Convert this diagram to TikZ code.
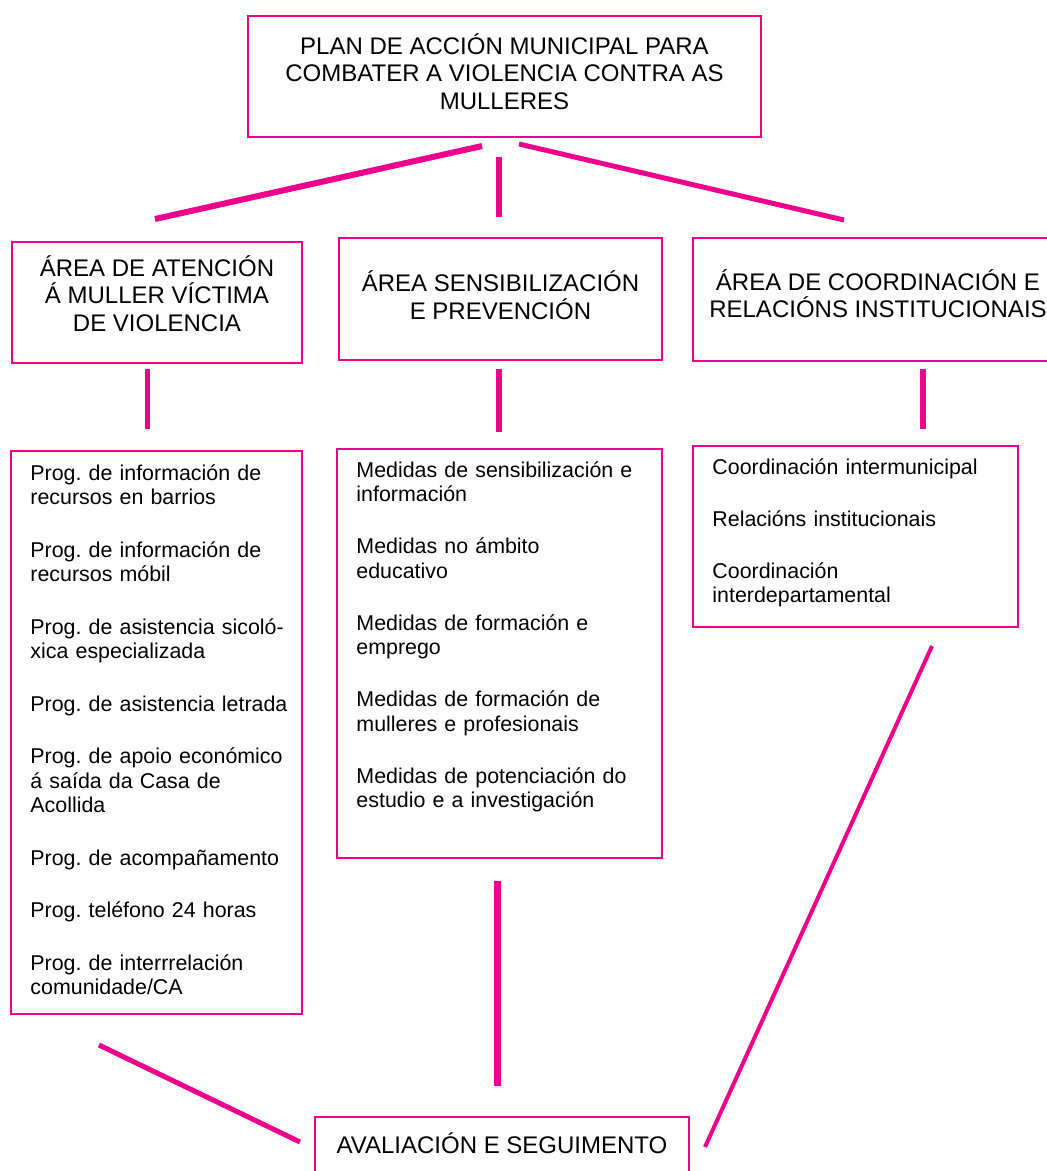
\documentclass[tikz,border=0pt]{standalone}
\usepackage{fontspec}
\setmainfont{Liberation Sans}
\frenchspacing
\usepackage{tikz}
\definecolor{rosa}{RGB}{236,0,140}
\tikzset{
	areabox/.style={draw=rosa,line width=1.5pt,rectangle,inner sep=0pt},
	areatext/.style={inner sep=0pt,align=center,font=\fontsize{24}{27.5}\selectfont},
	listbox/.style={draw=rosa,line width=1.5pt,rectangle,inner sep=0pt},
	listtext/.style={anchor=north west,inner sep=0pt,align=left,text width=295pt,font=\fontsize{21.4}{24.5}\selectfont},
	enlace/.style={draw=rosa,line width=6pt}
}

\begin{document}
\begin{tikzpicture}[x=1pt,y=-1pt]
			\useasboundingbox (0,0) rectangle (1047,1171);
			\clip (0,0) rectangle (1047,1171);
			\node[areabox,minimum width=513pt,minimum height=121pt] (Plan) at (504.5,76.5) {};
			\node[areabox,minimum width=290pt,minimum height=121pt] (Atencion) at (157,302.5) {};
			\node[areabox,minimum width=323pt,minimum height=122pt] (Sensib) at (500.5,299) {};
			\node[areabox,minimum width=370pt,minimum height=123pt] (Coord) at (878,299.5) {};
			\node[areabox,minimum width=374pt,minimum height=56pt] (Avaliacion) at (502,1145) {};
			\node[areatext] (PlanText) at ([yshift=5pt]Plan.center) {PLAN DE ACCIÓN MUNICIPAL PARA\\COMBATER A VIOLENCIA CONTRA AS\\MULLERES};
			\node[areatext] (AtencionText) at ([yshift=9pt]Atencion.center) {ÁREA DE ATENCIÓN\\Á MULLER VÍCTIMA\\DE VIOLENCIA};
			\node[areatext] (SensibText) at ([yshift=4pt]Sensib.center) {ÁREA SENSIBILIZACIÓN\\E PREVENCIÓN};
			\node[areatext] (CoordText) at ([yshift=6pt]Coord.center) {ÁREA DE COORDINACIÓN E\\RELACIÓNS INSTITUCIONAIS};
			\node[areatext] (AvaliacionText) at ([yshift=2pt]Avaliacion.center) {AVALIACIÓN E SEGUIMENTO};
			\node[listbox,minimum width=291pt,minimum height=563pt] (AtencionBox) at (156.5,732.5) {};
			\node[listbox,minimum width=325pt,minimum height=409pt] (SensibBox) at (499.5,653.5) {};
			\node[listbox,minimum width=325pt,minimum height=181pt] (CoordBox) at (855.5,536.5) {};
			\node[listtext] (AtencionList) at ([xshift=20pt,yshift=-14pt]AtencionBox.north west) {Prog. de información de\\recursos en barrios\\[28pt]Prog. de información de\\recursos móbil\\[28pt]Prog. de asistencia sicoló-\\xica especializada\\[28pt]Prog. de asistencia letrada\\[28pt]Prog. de apoio económico\\á saída da Casa de\\Acollida\\[28pt]Prog. de acompañamento\\[28pt]Prog. teléfono 24 horas\\[28pt]Prog. de interrrelación\\comunidade/CA};
			\node[listtext] (SensibList) at ([xshift=20pt,yshift=-13pt]SensibBox.north west) {Medidas de sensibilización e\\información\\[27.5pt]Medidas no ámbito\\educativo\\[27.5pt]Medidas de formación e\\emprego\\[27.5pt]Medidas de formación de\\mulleres e profesionais\\[27.5pt]Medidas de potenciación do\\estudio e a investigación};
			\node[listtext] (CoordList) at ([xshift=20pt,yshift=-13pt]CoordBox.north west) {Coordinación intermunicipal\\[27.5pt]Relacións institucionais\\[27.5pt]Coordinación\\interdepartamental};
			\coordinate (PlanL) at (482,146);
			\coordinate (PlanM) at (499,157);
			\coordinate (PlanR) at (519,144);
			\coordinate (AtencionT) at (155,219);
			\coordinate (SensibT) at (499,217);
			\coordinate (CoordT) at (844,220);
			\coordinate (AtencionA) at (147,369);
			\coordinate (AtencionB) at (147,429);
			\coordinate (SensibA) at (499,369);
			\coordinate (SensibB) at (499,432);
			\coordinate (CoordA) at (923,369);
			\coordinate (CoordB) at (923,429);
			\coordinate (SensibC) at (497,881);
			\coordinate (AvalM) at (497,1086);
			\coordinate (AtencionC) at (99,1045);
			\coordinate (AvalL) at (300,1142);
			\coordinate (CoordC) at (932,646);
			\coordinate (AvalR) at (705,1147);
			\draw[enlace] (PlanL) -- (AtencionT);
			\draw[enlace] (PlanM) -- (SensibT);
			\draw[enlace,line width=5pt] (PlanR) -- (CoordT);
			\draw[enlace,line width=5pt] (AtencionA) -- (AtencionB);
			\draw[enlace] (SensibA) -- (SensibB);
			\draw[enlace] (CoordA) -- (CoordB);
			\draw[enlace,line width=7pt] (SensibC) -- (AvalM);
			\draw[enlace,line width=5pt] (AtencionC) -- (AvalL);
			\draw[enlace,line width=4pt] (CoordC) -- (AvalR);
		\end{tikzpicture}
\end{document}
